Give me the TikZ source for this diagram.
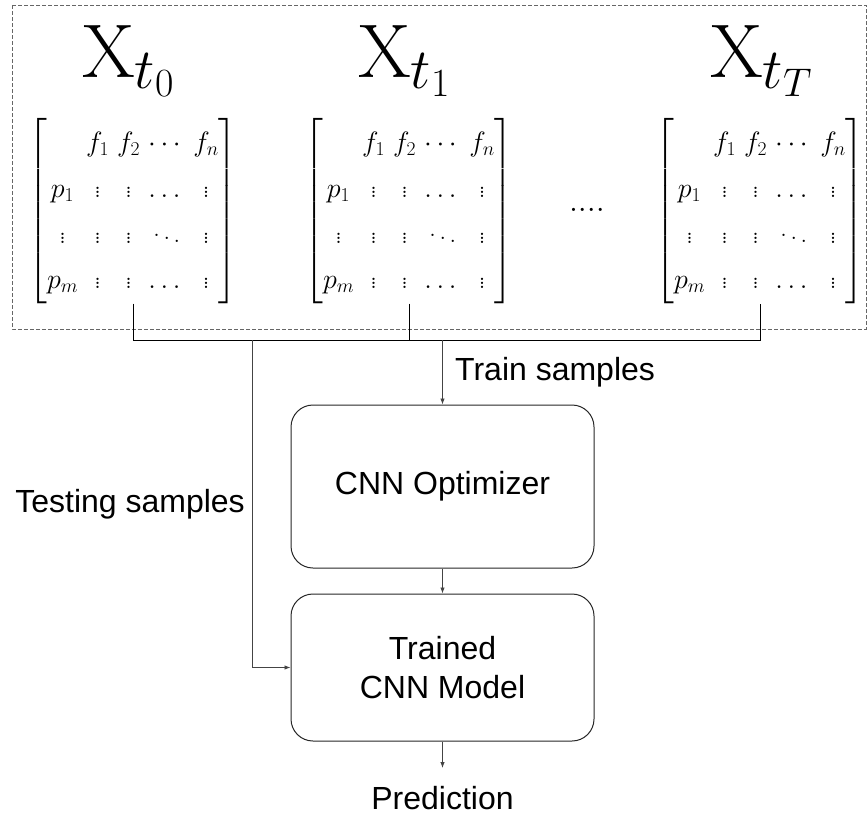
\RequirePackage{fix-cm}
\documentclass[tikz,border=0pt]{standalone}
\usepackage{amsmath,amssymb}
\usepackage{fontspec}
\newfontfamily\arialfont{Liberation Sans}
\usepackage{tikz}
\usetikzlibrary{arrows.meta,positioning,calc}
\DeclareMathSizes{76}{76}{57}{40}
\definecolor{lnGrey}{HTML}{444444}
\definecolor{frGrey}{HTML}{666666}
\tikzset{
  mat/.style   = {inner sep=0pt, font=\fontsize{28}{36}\selectfont},
  ttl/.style   = {inner sep=0pt, anchor=base west, font=\fontsize{76}{80}\selectfont},
  box/.style   = {draw=black!85, line width=1pt, rounded corners=22pt, align=center,
                  minimum width=303pt, font=\arialfont\fontsize{32}{39}\selectfont},
  lbl/.style   = {inner sep=0pt, font=\arialfont\fontsize{32}{39}\selectfont},
  bus/.style   = {draw=black, line width=0.9pt},
  ar/.style    = {-{Latex[length=6pt,width=4.5pt]}, draw=lnGrey, line width=0.9pt},
  frame/.style = {draw=frGrey, line width=0.8pt, dash pattern=on 4pt off 2pt},
}
\newcommand{\featmat}{%
  \renewcommand{\arraystretch}{1.27}\setlength{\arraycolsep}{4pt}%
  $\begin{bmatrix}
         & f_1    & f_2    & \cdots & f_n \\
    p_1  & \vdots & \vdots & \dots  & \vdots \\
    \vdots & \vdots & \vdots & \ddots & \vdots \\
    p_m  & \vdots & \vdots & \dots  & \vdots
  \end{bmatrix}$}

\begin{document}
\begin{tikzpicture}[x=1pt, y=-1pt]
  \useasboundingbox (0,0) rectangle (867,815);
  % time slices
  \draw[frame] (12,5) rectangle (866,329);
  \node[ttl] (t0) at (82,77)  {$\mathrm{X}_{t_0}$};
  \node[ttl] (t1) at (358,77) {$\mathrm{X}_{t_1}$};
  \node[ttl] (tT) at (710,77) {$\mathrm{X}_{t_T}$};
  \node[mat] (m0) at (133,211) {\featmat};
  \node[mat] (m1) at (409,211) {\featmat};
  \node[mat] (m2) at (760,211) {\featmat};
  \node[mat, font=\fontsize{33}{33}\selectfont] (gap) at (587,210) {$....$};
  % network
  \node[box, minimum height=163pt] (opt)   at (442.5,486.5) {CNN Optimizer};
  \node[box, minimum height=147pt] (model) at (442.5,667.5) {Trained\\CNN Model};
  \node[lbl, anchor=north, inner ysep=18pt] (pred) at (442.5,768) {Prediction};
  \node[lbl, anchor=base west] (train) at (455,380) {Train samples};
  \node[lbl, anchor=base east] (test)  at (245,512) {Testing samples};
  % connectors
  \coordinate (bus) at (0,340);
  \coordinate (tap) at (252,340);
  \draw[bus] (m0.south) -- (m0.south |- bus) -- (m2.south |- bus) -- (m2.south);
  \draw[bus] (m1.south) -- (m1.south |- bus);
  \draw[ar] (opt.north |- bus) -- (opt.north);
  \draw[ar] (tap) |- (model.west);
  \draw[ar] (opt.south) -- (model.north);
  \draw[ar] (model.south) -- (pred.north);
\end{tikzpicture}
\end{document}
